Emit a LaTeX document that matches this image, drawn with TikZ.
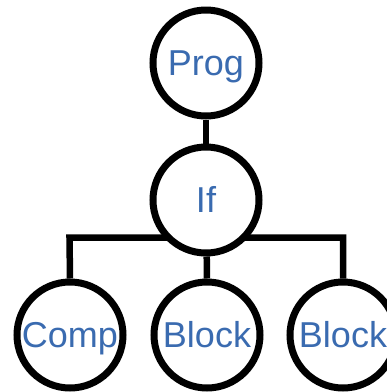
\documentclass[tikz,border=0pt]{standalone}
\usepackage{fontspec}
\setmainfont{Liberation Sans}
\usetikzlibrary{backgrounds}
\definecolor{txtblue}{RGB}{58,107,176}
\begin{document}
\begin{tikzpicture}[x=1pt,y=-1pt,
  tnode/.style={circle,draw=black,line width=7pt,minimum size=106pt,inner sep=0pt,fill=white},
  tlabel/.style={anchor=base,text=txtblue,font=\fontsize{36}{36}\selectfont,inner sep=0pt},
  conn/.style={line width=6.5pt,black,line join=miter}]
\useasboundingbox (0,0) rectangle (387,392);
\node[tnode] (prog) at (206,63) {};
\node[tnode] (if) at (206,200) {};
\node[tnode] (comp) at (70,335) {};
\node[tnode] (block1) at (207,335) {};
\node[tnode] (block2) at (343,335) {};
\coordinate (lc) at (69.5,237.5);
\coordinate (rc) at (343,237.5);
\begin{pgfonlayer}{background}
\draw[conn] (prog) -- (if);
\draw[conn] (comp.north) -- (lc) -- (rc) -- (block2.north);
\draw[conn] (if) -- (block1.north);
\end{pgfonlayer}
\node[tlabel] (tprog) at (206,75.5) {Prog};
\node[tlabel] (tif) at (206,212.5) {If};
\node[tlabel] (tcomp) at (70,347.5) {Comp};
\node[tlabel] (tblock1) at (207,347.5) {Block};
\node[tlabel] (tblock2) at (343,347.5) {Block};
\end{tikzpicture}
\end{document}
